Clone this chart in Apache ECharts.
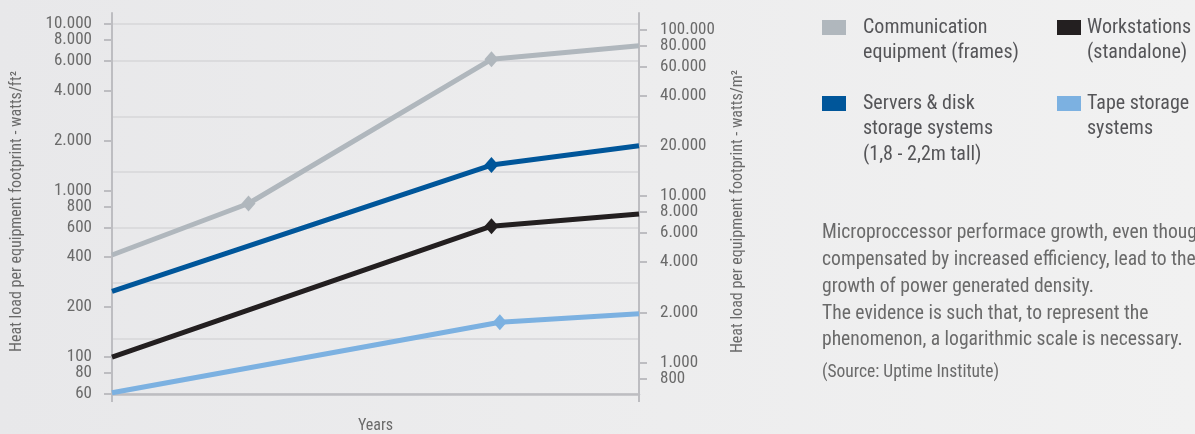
<!DOCTYPE html>
<html>
<head>
<meta charset="utf-8">
<script src="https://cdn.jsdelivr.net/npm/echarts@6/dist/echarts.min.js"></script>
<style>
  html, body { margin: 0; padding: 0; }
  #chart { width: 1195px; height: 434px; }
</style>
</head>
<body>
<div id="chart"></div>
<script>
// Heat load per equipment footprint (watts/ft²), position along the time axis 0..100
const commX    = [0, 25.9, 72.0, 100];
const commY    = [410, 836, 6140, 7410];
const serversX = [0, 72.0, 100];
const serversY = [248, 1422, 1857];
const workX    = [0, 72.0, 100];
const workY    = [100, 611, 724];
const tapeX    = [0, 73.6, 100];
const tapeY    = [61, 162, 182];

const seriesNames = [
  'Communication\nequipment (frames)',
  'Workstations\n(standalone)',
  'Servers & disk\nstorage systems\n(1,8 - 2,2m tall)',
  'Tape storage\nsystems'
];

// Tick labels of both vertical axes (left in watts/ft², right in watts/m²)
const leftTicks  = [60, 80, 100, 200, 400, 600, 800, 1000, 2000, 4000, 6000, 8000, 10000];
const rightTicks = [800, 1000, 2000, 4000, 6000, 8000, 10000, 20000, 40000, 60000, 80000, 100000];

const FT2_TO_M2 = 10.764;
const Y_MIN = 60, Y_MAX = 11650;
const GUIDE_TOP = 10000;          // highest guide line, watts/ft²
const GUIDES_PER_DECADE = 3;      // guide lines every third of a decade from the bottom

const noteText = 'Microproccessor performace growth, even though\ncompensated by increased efficiency, lead to the\ngrowth of power generated density.\nThe evidence is such that, to represent the\nphenomenon, a logarithmic scale is necessary.';
const sourceText = '(Source: Uptime Institute)';

const FONT = "'Liberation Sans Narrow', 'Roboto Condensed', 'DejaVu Sans Condensed', sans-serif";
const AXIS_GRAY = '#bdbdc1';
const TEXT_GRAY = '#6a6a6a';
const COLORS = { comm: '#b0b7bd', work: '#231f20', servers: '#00569a', tape: '#7cb1e1' };

const L = Math.log10;
const dots = n => String(n).replace(/\B(?=(\d{3})+(?!\d))/g, '.');

// Axis ends are padded with an extra hidden stop so that the densely packed
// outer labels (8.000 / 10.000, 800 / 1.000, 80.000 / 100.000) all stay visible.
const EPS = 1e-9;
const leftStops  = [...leftTicks.map(L), L(Y_MAX) - EPS];
const rightStops = [L(Y_MIN * FT2_TO_M2) + EPS, ...rightTicks.map(L), L(Y_MAX * FT2_TO_M2) - EPS];

// Plot box
const GRID_LEFT = 112, GRID_RIGHT = 556, GRID_TOP = 13, GRID_BOTTOM = 40;
const PLOT_H = 434 - GRID_TOP - GRID_BOTTOM;
// The guide-line grid shares the plot box but stops at the GUIDE_TOP level
const guideTop = GRID_TOP + PLOT_H * (L(Y_MAX) - L(GUIDE_TOP)) / (L(Y_MAX) - L(Y_MIN));

// Diamonds mark the interior points, the line ends carry no symbol
function points(xs, ys) {
  return xs.map((x, i) => ({
    value: [x, L(ys[i])],
    symbol: (i === 0 || i === xs.length - 1) ? 'none' : 'diamond'
  }));
}

function lineSeries(name, xs, ys, color) {
  return {
    name, type: 'line', xAxisIndex: 0, yAxisIndex: 0,
    data: points(xs, ys),
    symbolSize: [14, 16],
    showSymbol: true,
    lineStyle: { color, width: 5 },
    itemStyle: { color },
    z: 3,
    animation: false,
    silent: true
  };
}

const chart = echarts.init(document.getElementById('chart'), null, { renderer: 'canvas' });

const legendCols = [822, 1057];
const legendRows = [20, 96];
const legendColors = [COLORS.comm, COLORS.work, COLORS.servers, COLORS.tape];
const legendGraphics = seriesNames.map((name, i) => {
  const x = legendCols[i % 2], y = legendRows[Math.floor(i / 2)];
  return {
    type: 'group', left: x, top: y - 5,
    children: [
      { type: 'rect', shape: { x: 0, y: 5, width: 24, height: 15 }, style: { fill: legendColors[i] } },
      { type: 'text', x: (i % 2 === 0 ? 41 : 30), y: 0,
        style: { text: name, font: '20px ' + FONT, fill: '#555558', lineHeight: 25.5, verticalAlign: 'top' } }
    ]
  };
});

const axisNameStyle = { color: TEXT_GRAY, fontSize: 16, fontFamily: FONT, padding: [0, 16, 0, 0] };

chart.setOption({
  backgroundColor: {
    type: 'linear', x: 0, y: 0, x2: 1, y2: 0,
    colorStops: [{ offset: 0, color: '#e8e8ea' }, { offset: 1, color: '#f1f1f1' }]
  },
  animation: false,
  grid: [
    { left: GRID_LEFT, right: GRID_RIGHT, top: GRID_TOP, bottom: GRID_BOTTOM, containLabel: false, outerBoundsMode: 'none' },
    { left: GRID_LEFT, right: GRID_RIGHT, top: guideTop, bottom: GRID_BOTTOM, containLabel: false, outerBoundsMode: 'none' }
  ],
  xAxis: [
    {
      gridIndex: 0, type: 'value', min: 0, max: 100, interval: 100,
      name: 'Years', nameLocation: 'middle', nameGap: 24,
      nameTextStyle: { color: TEXT_GRAY, fontSize: 16, fontFamily: FONT },
      axisLine: { onZero: false, lineStyle: { color: AXIS_GRAY, width: 2.5 } },
      axisTick: { show: true, length: 8, lineStyle: { color: AXIS_GRAY, width: 2 } },
      axisLabel: { show: false },
      splitLine: { show: false },
      z: 2
    },
    { gridIndex: 1, type: 'value', min: 0, max: 100, show: false }
  ],
  yAxis: [
    {
      gridIndex: 0, type: 'value', position: 'left', min: L(Y_MIN), max: L(Y_MAX),
      name: 'Heat load per equipment footprint - watts/ft²',
      nameLocation: 'middle', nameGap: 87, nameRotate: 90,
      nameTextStyle: axisNameStyle,
      axisLine: { show: true, lineStyle: { color: AXIS_GRAY, width: 2 } },
      axisTick: { show: true, length: 8, customValues: leftStops, lineStyle: { color: AXIS_GRAY, width: 2 } },
      axisLabel: {
        customValues: leftStops, margin: 20,
        showMinLabel: true, showMaxLabel: false, hideOverlap: false,
        formatter: v => dots(Math.round(Math.pow(10, v))),
        color: TEXT_GRAY, fontSize: 17, fontFamily: FONT
      },
      splitLine: { show: false },
      z: 2
    },
    {
      // same scale expressed in watts/m²
      gridIndex: 0, type: 'value', position: 'right', min: L(Y_MIN * FT2_TO_M2), max: L(Y_MAX * FT2_TO_M2),
      name: 'Heat load per equipment footprint - watts/m²',
      nameLocation: 'middle', nameGap: 91, nameRotate: 90,
      nameTextStyle: axisNameStyle,
      axisLine: { show: true, lineStyle: { color: AXIS_GRAY, width: 2 } },
      axisTick: { show: true, length: 8, customValues: rightStops, lineStyle: { color: AXIS_GRAY, width: 2 } },
      axisLabel: {
        customValues: rightStops, margin: 21,
        showMinLabel: false, showMaxLabel: false, hideOverlap: false,
        formatter: v => dots(Math.round(Math.pow(10, v) / 10) * 10),
        color: TEXT_GRAY, fontSize: 17, fontFamily: FONT
      },
      splitLine: { show: false },
      z: 2
    },
    {
      // guide lines: counted in thirds of a decade above the bottom of the plot
      gridIndex: 1, type: 'value', position: 'left',
      min: 0, max: GUIDES_PER_DECADE * (L(GUIDE_TOP) - L(Y_MIN)), interval: 1,
      axisLine: { show: false },
      axisTick: { show: false },
      axisLabel: { show: false },
      splitLine: { show: true, lineStyle: { color: '#d6d6d9', width: 1.5 } },
      z: 0
    }
  ],
  series: [
    lineSeries('Tape storage systems', tapeX, tapeY, COLORS.tape),
    lineSeries('Workstations (standalone)', workX, workY, COLORS.work),
    lineSeries('Servers & disk storage systems', serversX, serversY, COLORS.servers),
    lineSeries('Communication equipment (frames)', commX, commY, COLORS.comm)
  ],
  graphic: [
    ...legendGraphics,
    {
      type: 'text', left: 822, top: 219.5,
      style: { text: noteText, font: '19.6px ' + FONT, fill: TEXT_GRAY, lineHeight: 26.9, verticalAlign: 'top' }
    },
    {
      type: 'text', left: 822, top: 363,
      style: { text: sourceText, font: '17.5px ' + FONT, fill: TEXT_GRAY, lineHeight: 20, verticalAlign: 'top' }
    }
  ]
});
</script>
</body>
</html>
